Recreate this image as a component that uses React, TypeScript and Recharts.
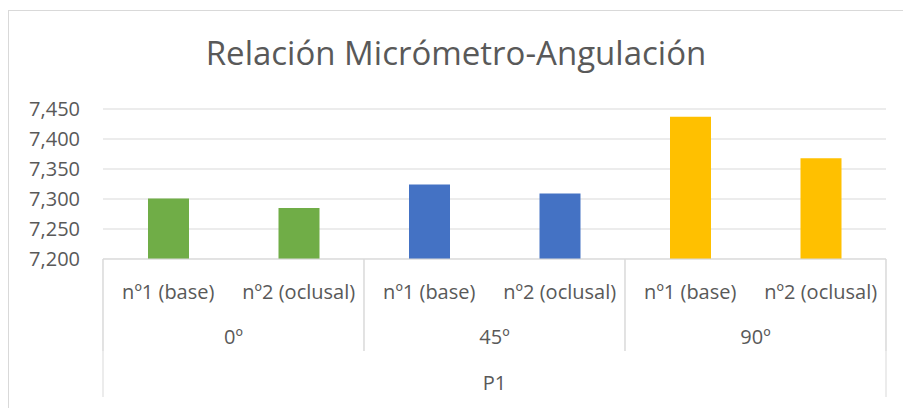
import React from 'react';
import { BarChart, Bar, XAxis, YAxis, CartesianGrid, Cell } from 'recharts';

const categories = ['nº1 (base)', 'nº2 (oclusal)', 'nº1 (base)', 'nº2 (oclusal)', 'nº1 (base)', 'nº2 (oclusal)'];
const groups = ['0º', '0º', '45º', '45º', '90º', '90º'];
const parents = ['P1', 'P1', 'P1', 'P1', 'P1', 'P1'];
const values = [7.301, 7.285, 7.324, 7.309, 7.437, 7.368];
const groupLabels = ['0º', '45º', '90º'];
const groupColors = ['#70AD47', '#4472C4', '#FFC000'];
const yTicks = [7.2, 7.25, 7.3, 7.35, 7.4, 7.45];
const title = 'Relación Micrómetro-Angulación';

const data = categories.map((c, i) => ({ name: c, group: groups[i], parent: parents[i], value: values[i] }));

const FONT = "'Open Sans', sans-serif";
const TEXT = '#595959';
const LINE = '#D9D9D9';
const W = 903;
const H = 408;
const PLOT_LEFT = 103;
const PLOT_RIGHT = 886;
const PLOT_W = PLOT_RIGHT - PLOT_LEFT;
const ROW_H = 46;
const FS = 20;

const fmt = (v: number) => v.toFixed(3).replace('.', ',');

function CatTick(props: any) {
  const { x, y, payload } = props;
  return (
    <text x={x} y={y + 40} textAnchor="middle" fill={TEXT} fontSize={FS} fontFamily={FONT}>
      {payload.value}
    </text>
  );
}

function GroupTick(props: any) {
  const { x, y, payload } = props;
  const half = PLOT_W / groupLabels.length / 2;
  return (
    <g>
      <line x1={x - half} x2={x - half} y1={y - ROW_H} y2={y + ROW_H} stroke={LINE} strokeWidth={1} />
      <line x1={x + half} x2={x + half} y1={y - ROW_H} y2={y + ROW_H} stroke={LINE} strokeWidth={1} />
      <text x={x} y={y + 39} textAnchor="middle" fill={TEXT} fontSize={FS} fontFamily={FONT}>
        {payload.value}
      </text>
    </g>
  );
}

function ParentTick(props: any) {
  const { x, y, payload } = props;
  const half = PLOT_W / 2;
  return (
    <g>
      <line x1={x - half} x2={x - half} y1={y - 2 * ROW_H} y2={y + ROW_H} stroke={LINE} strokeWidth={1} />
      <line x1={x + half} x2={x + half} y1={y - 2 * ROW_H} y2={y + ROW_H} stroke={LINE} strokeWidth={1} />
      <text x={x} y={y + 39} textAnchor="middle" fill={TEXT} fontSize={FS} fontFamily={FONT}>
        {payload.value}
      </text>
    </g>
  );
}

export default function App() {
  return (
    <div style={{ position: 'absolute', left: 0, top: 0, width: W, height: H, overflow: 'hidden', background: '#fff' }}>
      <BarChart
        width={W}
        height={H}
        data={data}
        margin={{ top: 109, right: W - PLOT_RIGHT, left: 0, bottom: H - 259 - 3 * ROW_H }}
      >
        <CartesianGrid vertical={false} stroke={LINE} xAxisId="cat" />
        <XAxis
          xAxisId="cat"
          dataKey="name"
          height={ROW_H}
          tickSize={0}
          tickMargin={0}
          tickLine={false}
          axisLine={{ stroke: LINE }}
          interval={0}
          tick={<CatTick />}
        />
        <XAxis
          xAxisId="grp"
          dataKey="group"
          allowDuplicatedCategory={false}
          height={ROW_H}
          tickSize={0}
          tickMargin={0}
          tickLine={false}
          axisLine={false}
          interval={0}
          tick={<GroupTick />}
        />
        <XAxis
          xAxisId="par"
          dataKey="parent"
          allowDuplicatedCategory={false}
          height={ROW_H}
          tickSize={0}
          tickMargin={0}
          tickLine={false}
          axisLine={false}
          interval={0}
          tick={<ParentTick />}
        />
        <YAxis
          domain={[7.2, 7.45]}
          ticks={yTicks}
          tickFormatter={fmt}
          width={PLOT_LEFT}
          tickSize={0}
          tickMargin={23}
          axisLine={false}
          tickLine={false}
          interval={0}
          tick={{ fill: TEXT, fontSize: FS, fontFamily: FONT }}
        />
        <Bar dataKey="value" xAxisId="cat" barSize={41} isAnimationActive={false}>
          {data.map((d, i) => (
            <Cell key={i} fill={groupColors[groupLabels.indexOf(d.group)]} />
          ))}
        </Bar>
      </BarChart>
      <svg width={W} height={H} style={{ position: 'absolute', left: 0, top: 0, pointerEvents: 'none' }}>
        <rect x={8.5} y={10.5} width={1000} height={1000} fill="none" stroke={LINE} strokeWidth={1} />
        <text x={456} y={65} textAnchor="middle" fill={TEXT} fontSize={33} fontFamily={FONT}>
          {title}
        </text>
      </svg>
    </div>
  );
}
